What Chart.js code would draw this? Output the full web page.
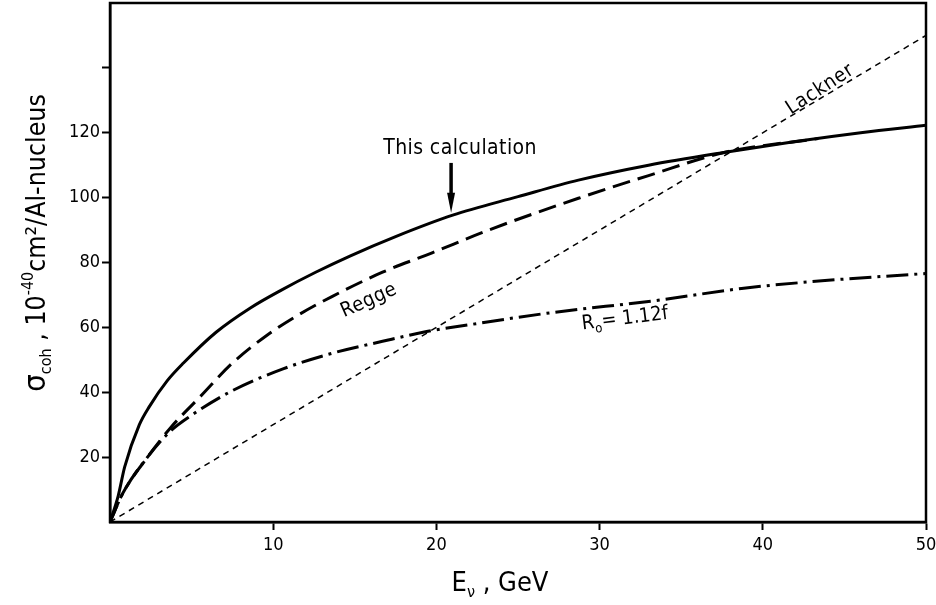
<!DOCTYPE html>
<html>
<head>
<meta charset="utf-8">
<script src="https://cdn.jsdelivr.net/npm/chart.js@4.4.1/dist/chart.umd.min.js"></script>
<style>
  html, body { margin: 0; padding: 0; background: #fff; }
  #wrap { width: 936px; height: 605px; }
</style>
</head>
<body>
<div id="wrap"><canvas id="chart" width="936" height="605"></canvas></div>
<script>
// neutrino energy (GeV) and coherent cross section (1e-40 cm^2 / Al nucleus)
const CALC_E     = [0, 0.5, 0.9, 1.8, 2.4, 3.5, 4.5, 6.5, 8.6, 10.5, 12.6, 14.7, 17.5, 21, 25, 28.7, 33, 37.7, 42, 46, 50];
const CALC_SIGMA = [0, 8, 17, 30, 35.5, 43.5, 49, 58.5, 66, 71.5, 77, 82, 88, 94.6, 100.3, 105.4, 110, 114, 117.3, 120, 122.3];

const REGGE_E     = [0, 0.8, 2.3, 3.7, 5.5, 7.5, 9.6, 11.6, 13.6, 16.7, 19.7, 23.2, 28.7, 33, 37.7, 43.4];
const REGGE_SIGMA = [0, 9, 20, 29, 38.5, 49, 57.5, 64, 69.5, 77, 82.9, 90, 99.8, 106.8, 114, 118.2];

const R0_E     = [0, 0.8, 2.3, 3.7, 4.9, 7.5, 10.6, 13.6, 16.7, 19.4, 22, 27, 33.5, 38.7, 44, 50];
const R0_SIGMA = [0, 9, 20, 28, 32.6, 40.5, 47.2, 52, 55.7, 58.7, 60.8, 64.5, 68.3, 72, 74.5, 76.6];

const LACKNER_E     = [0, 50];
const LACKNER_SIGMA = [0, 150];

const X_TICK_LABELS = [10, 20, 30, 40, 50];
const Y_TICK_LABELS = [20, 40, 60, 80, 100, 120];

const pts = (xs, ys) => xs.map((x, i) => ({ x: x, y: ys[i] }));

const FONT = '"DejaVu Sans Condensed", "DejaVu Sans", sans-serif';

// draw a run of text pieces (normal / sub / sup) centred on (x, y), rotated by angle
function drawRich(ctx, parts, x, y, angle) {
  ctx.save();
  ctx.translate(x, y);
  ctx.rotate(angle || 0);
  ctx.fillStyle = '#000';
  ctx.textBaseline = 'alphabetic';
  ctx.textAlign = 'left';
  let total = 0;
  parts.forEach(p => {
    ctx.font = p.size + 'px ' + FONT;
    ctx.letterSpacing = (p.ls || 0) + 'px';
    p.w = ctx.measureText(p.t).width;
    total += p.w;
  });
  let cx = -total / 2;
  parts.forEach(p => {
    ctx.font = p.size + 'px ' + FONT;
    ctx.letterSpacing = (p.ls || 0) + 'px';
    ctx.fillText(p.t, cx, p.dy || 0);
    cx += p.w;
  });
  ctx.restore();
}

const annotations = {
  id: 'annotations',
  afterDraw(chart) {
    const { ctx, chartArea: a, scales: { x, y } } = chart;
    ctx.save();
    // frame
    ctx.strokeStyle = '#000';
    ctx.lineWidth = 2.5;
    ctx.strokeRect(a.left, a.top, a.right - a.left, a.bottom - a.top);

    // "This calculation" + arrow
    drawRich(ctx, [{ t: 'This calculation', size: 21, ls: 0.4 }], x.getPixelForValue(21.45), y.getPixelForValue(113.6));
    const ax = x.getPixelForValue(20.9);
    const aTop = y.getPixelForValue(110.7);
    const aTip = y.getPixelForValue(95.3);
    ctx.lineWidth = 3.5;
    ctx.beginPath();
    ctx.moveTo(ax, aTop);
    ctx.lineTo(ax, aTip - 12);
    ctx.stroke();
    ctx.beginPath();
    ctx.moveTo(ax - 4, aTip - 20);
    ctx.lineTo(ax + 4, aTip - 20);
    ctx.lineTo(ax, aTip);
    ctx.closePath();
    ctx.fill();

    // curve labels
    drawRich(ctx, [{ t: 'Regge', size: 20, ls: 0.5 }], x.getPixelForValue(16.0), y.getPixelForValue(66.8), -24 * Math.PI / 180);
    drawRich(ctx, [
      { t: 'R', size: 20 },
      { t: 'o', size: 13, dy: 5 },
      { t: '= 1.12f', size: 20 }
    ], x.getPixelForValue(31.6), y.getPixelForValue(61), -7 * Math.PI / 180);
    drawRich(ctx, [{ t: 'Lackner', size: 20, ls: 0.8 }], x.getPixelForValue(43.7), y.getPixelForValue(132), -33 * Math.PI / 180);

    // axis titles
    drawRich(ctx, [
      { t: 'E', size: 27 },
      { t: 'ν', size: 16, dy: 6 },
      { t: ' , GeV', size: 27 }
    ], 500, 591);
    drawRich(ctx, [
      { t: 'σ', size: 31 },
      { t: 'coh', size: 16, dy: 6 },
      { t: ' , 10', size: 26.5 },
      { t: '-40', size: 16, dy: -12 },
      { t: 'cm²/Al-nucleus', size: 26.5 }
    ], 45, 243, -Math.PI / 2);
    ctx.restore();
  }
};

const tickColor = (ctx, edge) =>
  (ctx.tick && (ctx.tick.value === 0 || ctx.tick.value === edge)) ? 'rgba(0,0,0,0)' : '#000';

const config = {
  type: 'line',
  data: {
    datasets: [
      {
        label: 'This calculation',
        data: pts(CALC_E, CALC_SIGMA),
        borderColor: '#000',
        borderWidth: 3,
      },
      {
        label: 'Regge',
        data: pts(REGGE_E, REGGE_SIGMA),
        borderColor: '#000',
        borderWidth: 3,
        borderDash: [18, 8],
      },
      {
        label: 'R0 = 1.12f',
        data: pts(R0_E, R0_SIGMA),
        borderColor: '#000',
        borderWidth: 3,
        borderDash: [22, 6, 3, 6],
      },
      {
        label: 'Lackner',
        data: pts(LACKNER_E, LACKNER_SIGMA),
        borderColor: '#000',
        borderWidth: 1.5,
        borderDash: [6, 5],
      },
    ],
  },
  options: {
    responsive: false,
    animation: false,
    devicePixelRatio: 1,
    elements: {
      point: { radius: 0 },
      line: { cubicInterpolationMode: 'monotone', fill: false },
    },
    layout: { padding: { top: 3, right: 10, bottom: 0, left: 0 } },
    plugins: {
      legend: { display: false },
      tooltip: { enabled: false },
    },
    scales: {
      x: {
        type: 'linear',
        min: 0,
        max: 50,
        ticks: {
          stepSize: 10,
          color: '#000',
          padding: 5,
          font: { family: FONT, size: 18 },
          callback: v => X_TICK_LABELS.includes(v) ? String(v) : '',
          maxRotation: 0,
        },
        grid: { drawOnChartArea: false, tickLength: 8, tickWidth: 2, tickColor: c => tickColor(c, -1) },
        border: { color: '#000', width: 2.5 },
        afterFit: s => { s.height = 83; s.paddingLeft = 0; s.paddingRight = 0; },
      },
      y: {
        min: 0,
        max: 160,
        ticks: {
          stepSize: 20,
          color: '#000',
          padding: 2,
          font: { family: FONT, size: 18 },
          callback: v => Y_TICK_LABELS.includes(v) ? String(v) : '',
        },
        grid: { drawOnChartArea: false, tickLength: 8, tickWidth: 2, tickColor: c => tickColor(c, 160) },
        border: { color: '#000', width: 2.5 },
        afterFit: s => { s.width = 110; s.paddingTop = 0; s.paddingBottom = 0; },
      },
    },
  },
  plugins: [annotations],
};

new Chart(document.getElementById('chart'), config);
</script>
</body>
</html>
